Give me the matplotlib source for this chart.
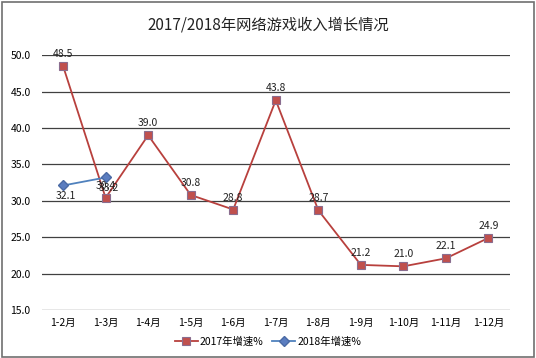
import matplotlib
matplotlib.use("Agg")
import matplotlib.pyplot as plt
from matplotlib.patches import Rectangle

plt.rcParams['font.family'] = ['Noto Sans CJK SC', 'DejaVu Sans']

categories = ['1-2月', '1-3月', '1-4月', '1-5月', '1-6月', '1-7月', '1-8月', '1-9月', '1-10月', '1-11月', '1-12月']
growth_2017 = [48.5, 30.4, 39.0, 30.8, 28.8, 43.8, 28.7, 21.2, 21.0, 22.1, 24.9]
growth_2018 = [32.1, 33.2]
yticks = [15.0, 20.0, 25.0, 30.0, 35.0, 40.0, 45.0, 50.0]

fig = plt.figure(figsize=(5.36, 3.58), dpi=100)
ax = fig.add_axes([0.078, 0.134, 0.873, 0.712])

x = list(range(len(categories)))
for yv in yticks:
    ax.axhline(yv, color='#404040', lw=0.9, zorder=0)

l1, = ax.plot(x, growth_2017, color='#B8403D', lw=1.3, marker='s', markersize=6,
              markerfacecolor='#C0504D', markeredgecolor='#8A6D8F', markeredgewidth=0.8,
              label='2017年增速%', zorder=3)
l2, = ax.plot(x[:len(growth_2018)], growth_2018, color='#4F81BD', lw=1.3, marker='D', markersize=5,
              markerfacecolor='#5A7DC0', markeredgecolor='#4A6AA5', label='2018年增速%', zorder=4)

for xi, v in zip(x, growth_2017):
    ax.annotate(f'{v:.1f}', (xi, v), xytext=(0, 5), textcoords='offset points',
                ha='center', va='bottom', fontsize=7.5, color='#222222', zorder=5)
for xi, v in zip(x, growth_2018):
    ax.annotate(f'{v:.1f}', (xi, v), xytext=(2, -4), textcoords='offset points',
                ha='center', va='top', fontsize=7.5, color='#222222', zorder=5)

ax.set_xlim(-0.5, len(categories) - 0.5)
ax.set_ylim(15, 50)
ax.set_yticks(yticks)
ax.set_yticklabels([f'{v:.1f}' for v in yticks], fontsize=7.5)
ax.set_xticks(x)
ax.set_xticklabels(categories, fontsize=7.5)
ax.tick_params(length=0, pad=6)
ax.tick_params(axis='y', pad=8)
for s in ax.spines.values():
    s.set_visible(False)

fig.suptitle('2017/2018年网络游戏收入增长情况', y=0.955, fontsize=11, color='#222222')
fig.legend(handles=[l1, l2], loc='center', bbox_to_anchor=(0.5, 0.045), ncol=2,
           frameon=False, fontsize=7.5, handlelength=2.2, columnspacing=0.8, handletextpad=0.2)

fig.patches.append(Rectangle((0.003, 0.004), 0.994, 0.99, transform=fig.transFigure,
                             fill=False, edgecolor='#707070', lw=1.2))

fig.savefig('out.png', dpi=100)
